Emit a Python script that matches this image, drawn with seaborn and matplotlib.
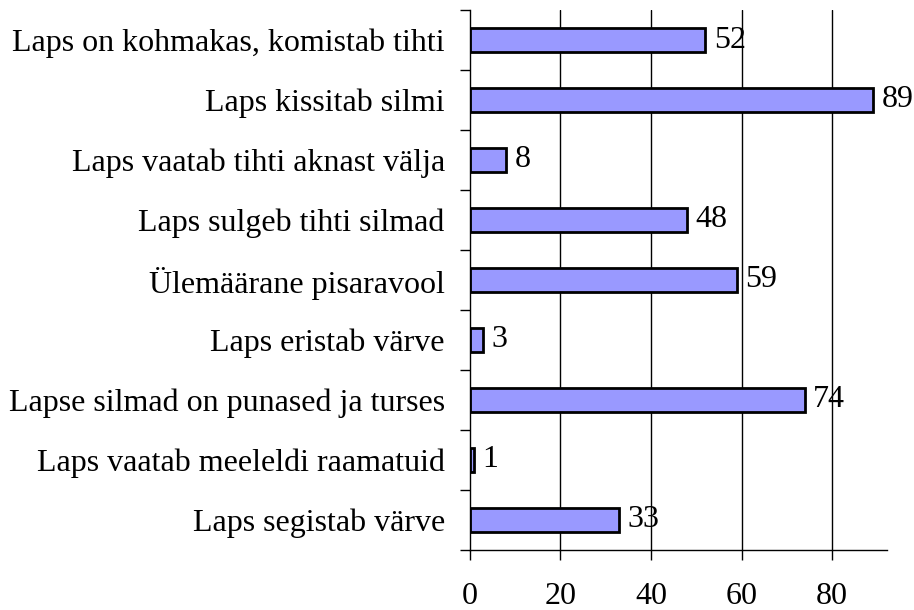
import matplotlib
matplotlib.use("Agg")
import matplotlib.pyplot as plt
import seaborn as sns
import pandas as pd
from matplotlib.ticker import FixedLocator

categories = [
    "Laps on kohmakas, komistab tihti",
    "Laps kissitab silmi",
    "Laps vaatab tihti aknast välja",
    "Laps sulgeb tihti silmad",
    "Ülemäärane pisaravool",
    "Laps eristab värve",
    "Lapse silmad on punased ja turses",
    "Laps vaatab meeleldi raamatuid",
    "Laps segistab värve",
]
values = [52, 89, 8, 48, 59, 3, 74, 1, 33]
xticks = [0, 20, 40, 60, 80]

sns.set_style("white")
plt.rcParams["font.family"] = ["Liberation Serif", "DejaVu Serif"]
plt.rcParams["text.color"] = "black"
plt.rcParams["xtick.color"] = "black"
plt.rcParams["ytick.color"] = "black"
plt.rcParams["xtick.labelcolor"] = "black"
plt.rcParams["ytick.labelcolor"] = "black"

FS = 23

df = pd.DataFrame({"cat": categories, "val": values})

fig = plt.figure(figsize=(9.14, 6.10), dpi=100)
ax = fig.add_axes([0.514, 0.0984, 0.456, 0.8852])

sns.barplot(data=df, x="val", y="cat", orient="h", color="#9999FF",
            saturation=1, width=0.4, edgecolor="black", linewidth=2, ax=ax)

for c in ax.containers:
    ax.bar_label(c, padding=6, fontsize=FS, color="black")

ax.set_xlim(0, 92)
ax.set_ylim(len(categories) - 0.5, -0.5)
ax.set_xticks(xticks)
ax.set_xticklabels([str(t) for t in xticks], fontsize=FS)
ax.tick_params(axis="x", which="major", bottom=True, direction="out", length=7.2,
               width=1, color="black", pad=16, labelcolor="black")
ax.tick_params(axis="y", which="major", left=False, length=0, pad=18,
               labelsize=FS, labelcolor="black")
ax.yaxis.set_minor_locator(FixedLocator([i - 0.5 for i in range(len(categories) + 1)]))
ax.tick_params(axis="y", which="minor", left=True, direction="out", length=7.2,
               width=1, color="black")
ax.set_xlabel("")
ax.set_ylabel("")

for t in xticks[1:]:
    ax.axvline(t, color="black", linewidth=1, zorder=0)

for s in ["top", "right"]:
    ax.spines[s].set_visible(False)
for s in ["left", "bottom"]:
    ax.spines[s].set_color("black")
    ax.spines[s].set_linewidth(1)

fig.savefig("out.png", dpi=100)
